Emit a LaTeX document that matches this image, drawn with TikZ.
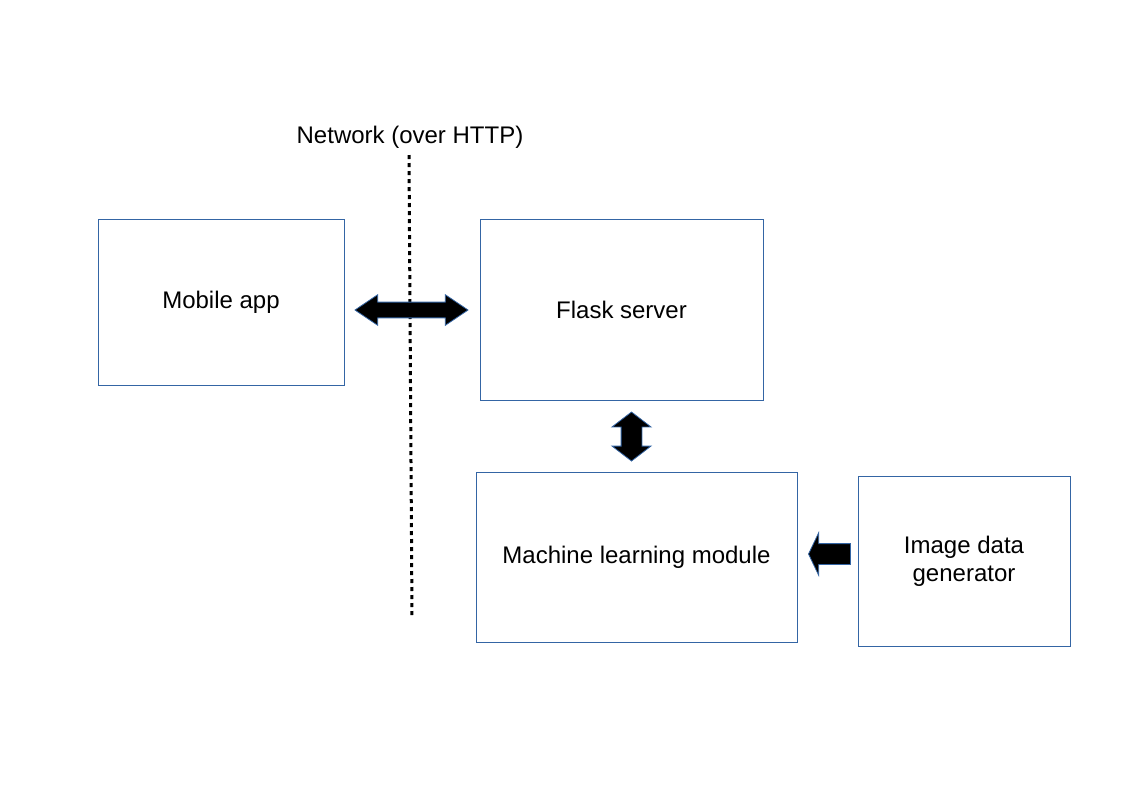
\documentclass[tikz,border=0pt]{standalone}
\usepackage{fontspec}
\setmainfont{Liberation Sans}
\usetikzlibrary{positioning,shapes,shapes.arrows}
\definecolor{boxblue}{RGB}{52,101,164}
\tikzstyle{block} = [rectangle, draw=boxblue, line width=0.75pt, fill=white,
    text centered, align=center, inner sep=0pt]
\tikzstyle{fat} = [fill=black, draw=boxblue, line width=0.6pt, inner sep=0pt]
\tikzstyle{netline} = [draw, line width=2.25pt, dash pattern=on 3pt off 3pt]

\begin{document}
\begin{tikzpicture}[x=0.75pt, y=-0.75pt, font=\fontsize{18}{21}\selectfont]
      \useasboundingbox (0,0) rectangle (1123,794);
      \node [block, minimum width=184.5pt, minimum height=124.5pt] (mobile) at (221,302) {Mobile app};
      \node [block, minimum width=212.25pt, minimum height=135.75pt] (flask) at (621.5,309.5) {Flask server};
      \node [block, minimum width=240.75pt, minimum height=127.5pt] (ml) at (636.5,557) {Machine learning module};
      \node [block, minimum width=159pt, minimum height=127.5pt] (gen) at (964,561) {Image data\\generator};
      \node (net) at (410,137) {Network (over HTTP)};
      \coordinate (nettop) at (409,155);
      \coordinate (netbot) at (412,617);
      % Draw edges
      \path [netline] (nettop) -- (netbot);
      \node [fat, double arrow, minimum height=84.75pt, minimum width=22.5pt,
          inner ysep=5.6pt, double arrow head extend=5.6pt, double arrow tip angle=68] (httparrow) at (411.5,310) {};
      \node [fat, double arrow, shape border rotate=90, minimum height=36.75pt, minimum width=28.5pt,
          inner xsep=7.5pt, double arrow head extend=6.75pt, double arrow tip angle=105] (mlarrow) at (631.5,436.5) {};
      \node [fat, single arrow, shape border rotate=180, minimum height=31.5pt, minimum width=31.5pt,
          inner ysep=7.5pt, single arrow head extend=8.25pt, single arrow tip angle=129] (genarrow) at (832,554) {};
  \end{tikzpicture}
\end{document}
